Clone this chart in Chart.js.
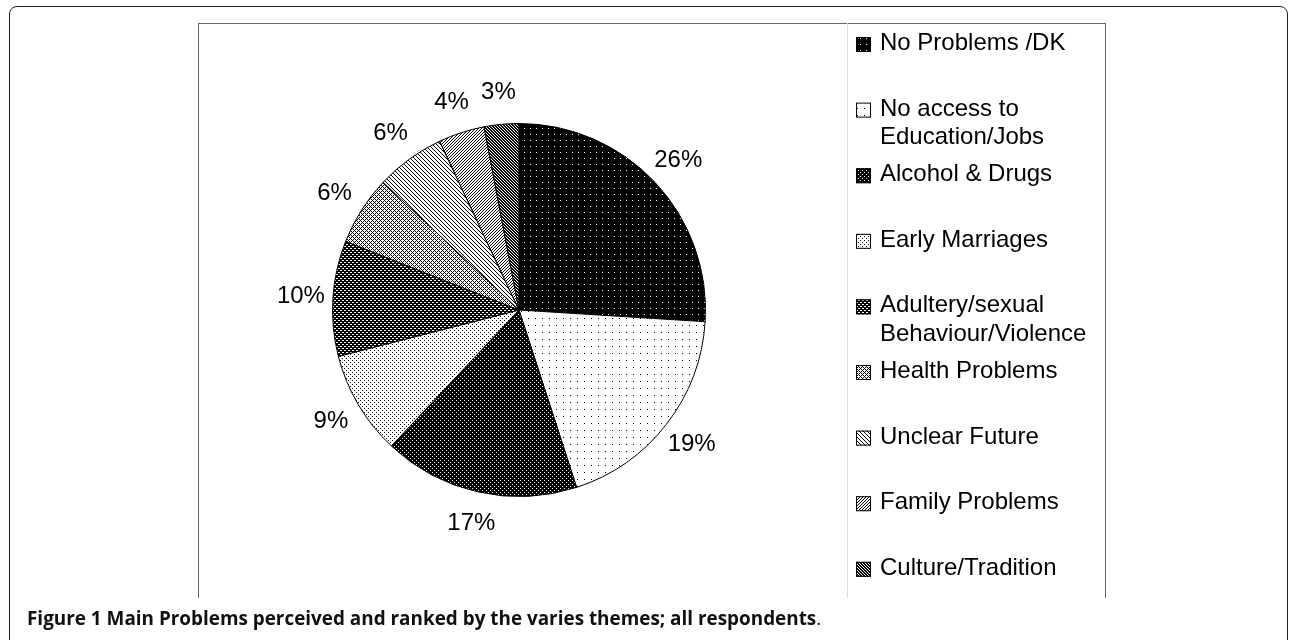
<!DOCTYPE html>
<html>
<head>
<meta charset="utf-8">
<script src="https://cdn.jsdelivr.net/npm/chart.js@4.4.1/dist/chart.umd.min.js"></script>
<style>
  html, body { margin: 0; padding: 0; background: #fff; }
  body { width: 1290px; height: 640px; position: relative; overflow: hidden; }
  .frame {
    position: absolute; left: 9px; top: 6px; width: 1279px; height: 645px;
    border: 1.5px solid #222; border-radius: 8px; box-sizing: border-box;
  }
  .plotbox {
    position: absolute; left: 198px; top: 23px; width: 908px; height: 575px;
    border: 1px solid #666; border-bottom: none; box-sizing: border-box;
  }
  .legendline {
    position: absolute; left: 847px; top: 23px; width: 0; height: 575px;
    border-left: 1px solid #ddd;
  }
  .caption {
    position: absolute; left: 27px; top: 605px;
    font-family: "Open Sans", "Noto Sans", sans-serif; font-size: 18.9px; color: #111;
    white-space: nowrap;
  }
  .caption b { font-weight: 700; }
  #chart { position: absolute; left: 0; top: 0; }
</style>
</head>
<body>
<div class="frame"></div>
<div class="plotbox"></div>
<div class="legendline"></div>
<canvas id="chart" width="1290" height="640"></canvas>
<div class="caption"><b>Figure 1 Main Problems perceived and ranked by the varies themes; all respondents</b>.</div>
<script>
// Categories (legend lines) and shares in percent, clockwise from 12 o'clock
const categories = [
    ['No Problems /DK'],
    ['No access to', 'Education/Jobs'],
    ['Alcohol & Drugs'],
    ['Early Marriages'],
    ['Adultery/sexual', 'Behaviour/Violence'],
    ['Health Problems'],
    ['Unclear Future'],
    ['Family Problems'],
    ['Culture/Tradition']
];
const shares = [26, 19, 17, 9, 10, 6, 6, 4, 3];

// Black & white fill patterns, one per slice
const makePattern = (size, bg, fg, test) => {
    const c = document.createElement('canvas');
    c.width = size;
    c.height = size;
    const g = c.getContext('2d');
    g.fillStyle = bg;
    g.fillRect(0, 0, size, size);
    g.fillStyle = fg;
    for (let y = 0; y < size; y++) {
        for (let x = 0; x < size; x++) {
            if (test(x, y)) g.fillRect(x, y, 1, 1);
        }
    }
    return g.createPattern(c, 'repeat');
};

const lattice = (n, w) => (x, y) => ((x + y) % n) < w || ((x - y + n * 4) % n) < w;

const patterns = [
    makePattern(6, '#000', '#fff', (x, y) => x === 2 && y === 2),
    makePattern(7, '#fff', '#000', (x, y) => x === 3 && y === 3),
    makePattern(4, '#000', '#fff', (x, y) => (x === 0 && y === 0) || (x === 2 && y === 2)),
    makePattern(4, '#fff', '#000', (x, y) => (x === 0 && y === 0) || (x === 2 && y === 2)),
    makePattern(4, '#fff', '#000', lattice(4, 2)),
    makePattern(4, '#fff', '#000', lattice(4, 1)),
    makePattern(4, '#fff', '#000', (x, y) => (x - y + 8) % 4 === 0),
    makePattern(3, '#fff', '#000', (x, y) => (x + y) % 3 === 0),
    makePattern(3, '#fff', '#000', (x, y) => (x - y + 6) % 3 < 2)
];

const FONT = '24px "Liberation Sans", Arial, sans-serif';

// Percent labels just outside each slice
const sliceLabels = {
    id: 'sliceLabels',
    afterDatasetsDraw(chart) {
        const ctx = chart.ctx;
        const meta = chart.getDatasetMeta(0);
        const values = chart.data.datasets[0].data;
        ctx.save();
        ctx.font = FONT;
        ctx.fillStyle = '#000';
        ctx.textAlign = 'center';
        ctx.textBaseline = 'middle';
        meta.data.forEach((arc, i) => {
            const p = arc.getProps(['x', 'y', 'startAngle', 'endAngle', 'outerRadius'], true);
            const mid = (p.startAngle + p.endAngle) / 2;
            const r = p.outerRadius + 32;
            ctx.fillText(values[i] + '%', p.x + Math.cos(mid) * r, p.y + Math.sin(mid) * r);
        });
        ctx.restore();
    }
};

// Legend on the right, one slot per category
const sideLegend = {
    id: 'sideLegend',
    afterDraw(chart) {
        const ctx = chart.ctx;
        const ds = chart.data.datasets[0];
        const left = 856, firstBase = 50, step = 65.6, lineGap = 28.5;
        ctx.save();
        ctx.font = FONT;
        ctx.fillStyle = '#000';
        ctx.textAlign = 'left';
        ctx.textBaseline = 'alphabetic';
        chart.data.labels.forEach((lines, i) => {
            const base = firstBase + i * step;
            ctx.fillStyle = ds.backgroundColor[i];
            ctx.fillRect(left, base - 13, 15, 15);
            ctx.strokeStyle = '#000';
            ctx.lineWidth = 1;
            ctx.strokeRect(left + 0.5, base - 12.5, 14, 14);
            ctx.fillStyle = '#000';
            lines.forEach((t, k) => ctx.fillText(t, left + 24, base + k * lineGap));
        });
        ctx.restore();
    }
};

new Chart(document.getElementById('chart').getContext('2d'), {
    type: 'pie',
    data: {
        labels: categories,
        datasets: [{
            data: shares,
            backgroundColor: patterns,
            borderColor: '#000',
            borderWidth: 1
        }]
    },
    options: {
        responsive: false,
        animation: false,
        devicePixelRatio: 1,
        layout: {
            padding: { left: 332, right: 584, top: 123, bottom: 143 }
        },
        plugins: {
            legend: { display: false },
            tooltip: { enabled: false },
            title: { display: false }
        }
    },
    plugins: [sliceLabels, sideLegend]
});
</script>
</body>
</html>
